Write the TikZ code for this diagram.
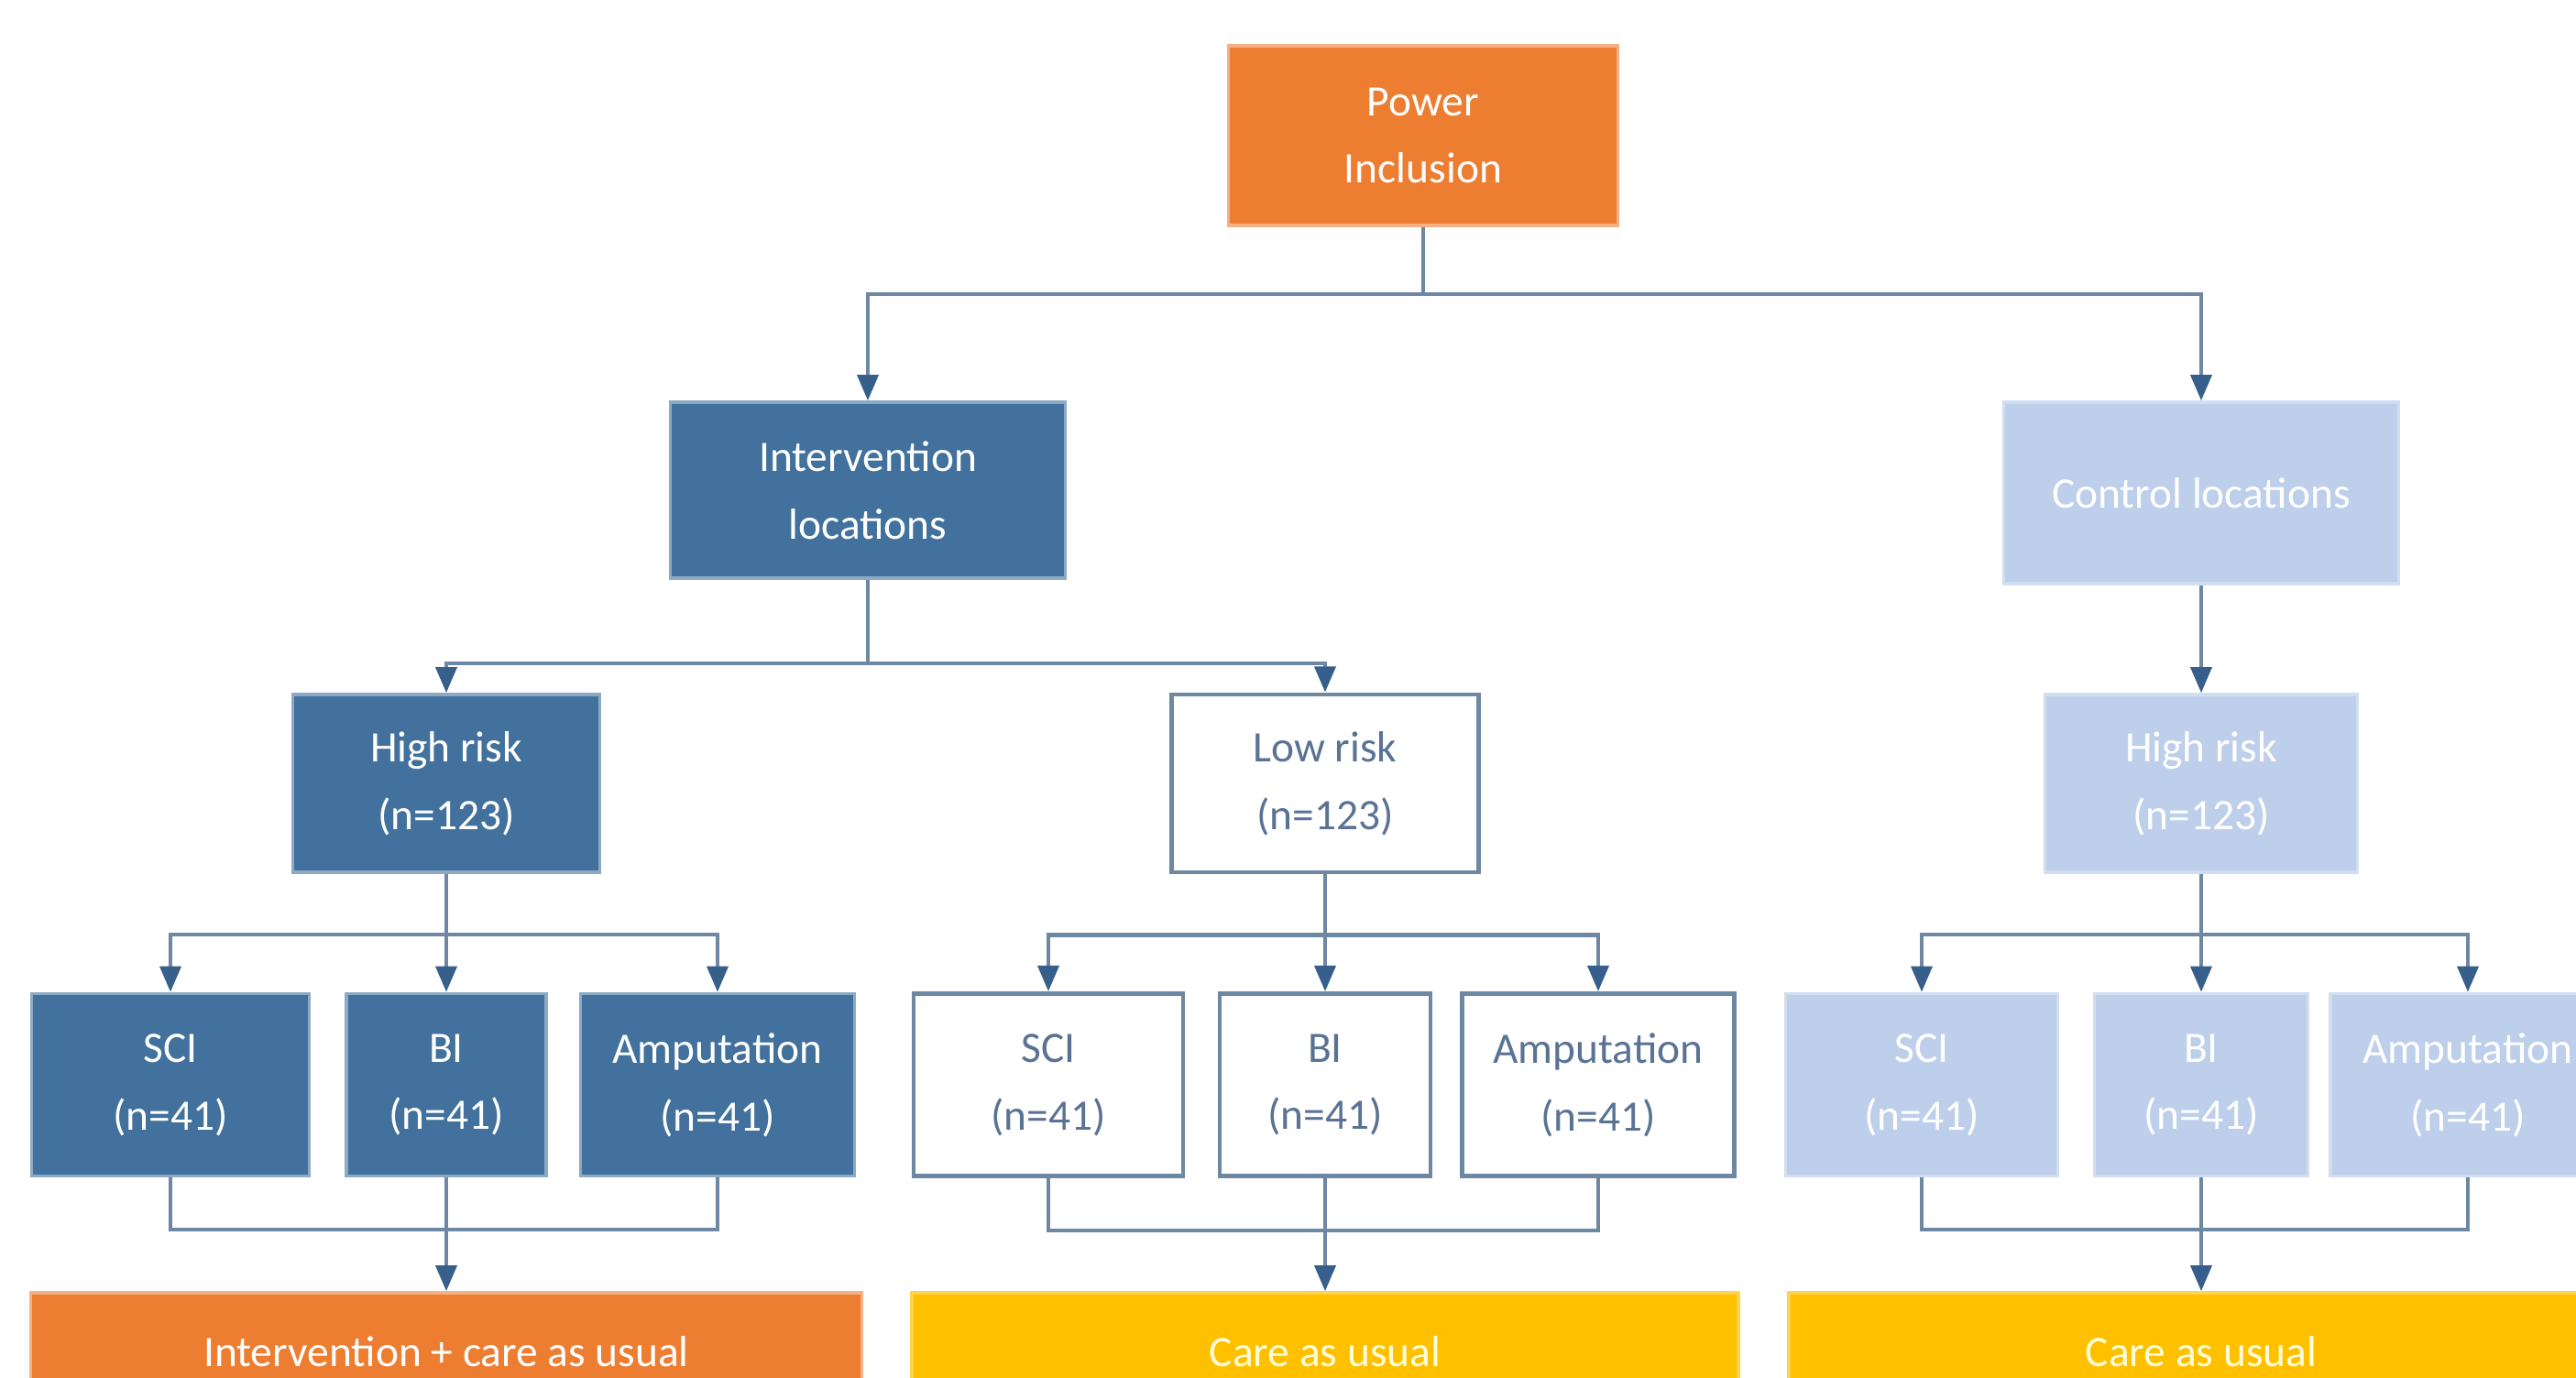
\documentclass[tikz,border=0pt]{standalone}
\usepackage{fontspec}
\setmainfont{Carlito}
\usetikzlibrary{arrows.meta, positioning}

\definecolor{darkblue}{RGB}{65,113,156}
\definecolor{paleblue}{RGB}{189,207,234}
\definecolor{boxorange}{RGB}{237,125,49}
\definecolor{boxyellow}{RGB}{255,192,0}
\definecolor{linec}{RGB}{110,135,162}
\definecolor{tipc}{RGB}{55,95,140}
\definecolor{greytext}{RGB}{90,115,148}

\begin{document}
\begin{tikzpicture}[
      font=\fontsize{13.5}{21}\selectfont,
      box/.style={rectangle, inner sep=0pt, align=center, line width=1pt},
      dark/.style={box, fill=darkblue, draw=darkblue!60, text=white},
      plain/.style={box, fill=white, draw=linec, line width=1.4pt, text=greytext},
      pale/.style={box, fill=paleblue, draw=paleblue!70, text=white},
      orng/.style={box, fill=boxorange, draw=boxorange!60, text=white},
      yell/.style={box, fill=boxyellow, draw=boxyellow!70, text=yellow!15},
      line/.style={draw=linec, line width=1.2pt},
      arr/.style={line, -{Triangle[length=8pt, width=6.5pt, color=tipc]}}]
    \useasboundingbox (0,0) rectangle (28.11,-15.04);
    \clip (0,0) rectangle (28.11,-15.04);

    % top
    \node[orng, minimum width=4.25cm, minimum height=1.96cm] (power) at (15.53,-1.48) {Power\\Inclusion};
    \node[dark, minimum width=4.31cm, minimum height=1.92cm] (interv) at (9.47,-5.35) {Intervention\\locations};
    \node[pale, minimum width=4.31cm, minimum height=1.98cm] (ctrl) at (24.02,-5.38) {Control locations};

    % risk groups
    \node[dark, minimum width=3.35cm, minimum height=1.94cm] (high1) at (4.87,-8.55) {High risk\\(n=123)};
    \node[plain, minimum width=3.35cm, minimum height=1.94cm] (low) at (14.46,-8.55) {Low risk\\(n=123)};
    \node[pale, minimum width=3.41cm, minimum height=1.94cm] (high3) at (24.02,-8.55) {High risk\\(n=123)};

    % diagnoses
    \node[dark, minimum width=3.03cm, minimum height=1.99cm] (sci1) at (1.86,-11.84) {SCI\\(n=41)};
    \node[dark, minimum width=2.18cm, minimum height=1.99cm] (bi1) at (4.87,-11.84) {BI\\(n=41)};
    \node[dark, minimum width=2.99cm, minimum height=1.99cm] (amp1) at (7.83,-11.84) {Amputation\\(n=41)};
    \node[plain, minimum width=2.94cm, minimum height=1.99cm] (sci2) at (11.44,-11.84) {SCI\\(n=41)};
    \node[plain, minimum width=2.30cm, minimum height=1.99cm] (bi2) at (14.46,-11.84) {BI\\(n=41)};
    \node[plain, minimum width=2.97cm, minimum height=1.99cm] (amp2) at (17.44,-11.84) {Amputation\\(n=41)};
    \node[pale, minimum width=2.97cm, minimum height=1.99cm] (sci3) at (20.97,-11.84) {SCI\\(n=41)};
    \node[pale, minimum width=2.33cm, minimum height=1.99cm] (bi3) at (24.02,-11.84) {BI\\(n=41)};
    \node[pale, minimum width=3.00cm, minimum height=1.99cm] (amp3) at (26.93,-11.84) {Amputation\\(n=41)};

    % outcome
    \node[orng, minimum width=9.07cm, minimum height=1.29cm] (out1) at (4.87,-14.755) {Intervention + care as usual};
    \node[yell, minimum width=9.02cm, minimum height=1.29cm] (out2) at (14.46,-14.755) {Care as usual};
    \node[yell, minimum width=9.00cm, minimum height=1.29cm] (out3) at (24.02,-14.755) {Care as usual};

    % connectors
    \draw[arr] (power.south) -- ++(0,-0.73) -| (interv.north);
    \draw[arr] (power.south) -- ++(0,-0.73) -| (ctrl.north);
    \draw[arr] (interv.south) -- ++(0,-0.91) -| (high1.north);
    \draw[arr] (interv.south) -- ++(0,-0.91) -| (low.north);
    \draw[arr] (ctrl.south) -- (high3.north);

    \draw[arr] (high1.south) -- ++(0,-0.66) -| (sci1.north);
    \draw[arr] (high1.south) -- ++(0,-0.66) -| (amp1.north);
    \draw[arr] (high1.south) -- (bi1.north);
    \draw[arr] (low.south) -- ++(0,-0.66) -| (sci2.north);
    \draw[arr] (low.south) -- ++(0,-0.66) -| (amp2.north);
    \draw[arr] (low.south) -- (bi2.north);
    \draw[arr] (high3.south) -- ++(0,-0.66) -| (sci3.north);
    \draw[arr] (high3.south) -- ++(0,-0.66) -| (amp3.north);
    \draw[arr] (high3.south) -- (bi3.north);

    \draw[line] (sci1.south) -- ++(0,-0.57) -| (amp1.south);
    \draw[arr] (bi1.south) -- (out1.north);
    \draw[line] (sci2.south) -- ++(0,-0.57) -| (amp2.south);
    \draw[arr] (bi2.south) -- (out2.north);
    \draw[line] (sci3.south) -- ++(0,-0.57) -| (amp3.south);
    \draw[arr] (bi3.south) -- (out3.north);
\end{tikzpicture}
\end{document}
